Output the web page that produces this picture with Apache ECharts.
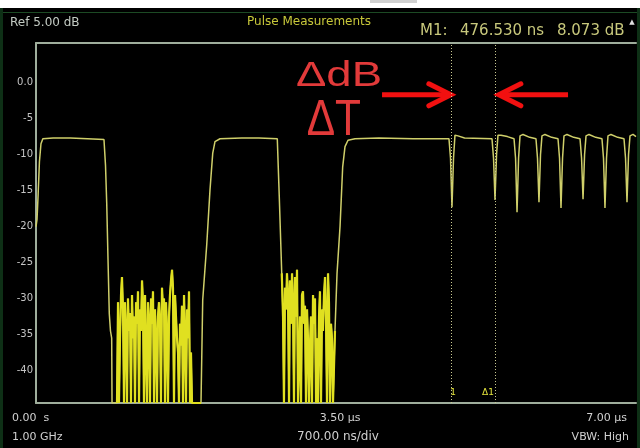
<!DOCTYPE html>
<html><head><meta charset="utf-8">
<script src="https://cdn.jsdelivr.net/npm/echarts@6/dist/echarts.min.js"></script>
<style>html,body{margin:0;padding:0;background:#000;}#c{width:640px;height:448px;}</style>
</head><body><div id="c"></div>
<script>
// ---- data (time in µs, level in dB) ----
const pulse1 = [[0.000,-20.5],[0.012,-19.5],[0.025,-16],[0.040,-11.5],[0.058,-9.0],[0.080,-8.3],[0.200,-8.2],[0.400,-8.2],[0.600,-8.3],[0.793,-8.4],[0.811,-12],[0.825,-17.2],[0.840,-25],[0.855,-32.6],[0.869,-35],[0.883,-36],[0.887,-45],[0.945,-45]];
const noise1 = [[0.945,-45],[0.957,-31],[0.968,-45],[0.980,-36],[0.992,-30],[1.003,-27.5],[1.015,-32],[1.027,-45],[1.038,-31],[1.050,-35],[1.062,-45],[1.073,-30.5],[1.085,-35],[1.097,-32.5],[1.108,-45],[1.120,-30],[1.132,-36],[1.143,-33],[1.155,-45],[1.167,-31],[1.178,-34],[1.190,-29.5],[1.202,-45],[1.213,-32],[1.225,-35],[1.237,-28],[1.248,-31],[1.260,-45],[1.272,-30],[1.283,-37],[1.295,-45],[1.307,-31],[1.318,-33.5],[1.330,-45],[1.342,-30.5],[1.353,-34],[1.365,-29.5],[1.377,-45],[1.388,-32],[1.400,-36],[1.412,-45],[1.423,-33],[1.435,-31],[1.447,-34],[1.458,-45],[1.470,-29],[1.482,-32],[1.493,-30.5],[1.505,-45],[1.517,-31],[1.528,-35],[1.540,-45],[1.552,-33],[1.563,-30],[1.575,-28],[1.587,-26.5],[1.598,-29],[1.610,-45],[1.622,-30],[1.633,-33],[1.645,-36],[1.657,-38],[1.668,-45],[1.680,-34],[1.692,-37],[1.703,-31.5],[1.715,-45],[1.727,-30],[1.738,-35],[1.750,-45],[1.762,-32],[1.773,-36],[1.785,-29.5],[1.797,-45],[1.808,-38],[1.820,-45],[1.925,-45]];
const pulse2 = [[1.937,-45],[1.945,-30.7],[1.992,-23],[2.030,-15.4],[2.062,-10.3],[2.088,-8.7],[2.147,-8.3],[2.400,-8.2],[2.600,-8.2],[2.815,-8.3],[2.840,-17],[2.867,-27]];
const noise2 = [[2.867,-27],[2.870,-28],[2.882,-33],[2.893,-45],[2.905,-29],[2.917,-32],[2.928,-27],[2.940,-30],[2.952,-45],[2.963,-28],[2.975,-34],[2.987,-27],[2.998,-31],[3.010,-45],[3.022,-27.5],[3.033,-33],[3.045,-26.5],[3.057,-45],[3.068,-45],[3.080,-33],[3.092,-45],[3.103,-30],[3.115,-29.5],[3.127,-34],[3.138,-31.5],[3.150,-45],[3.162,-32],[3.173,-36],[3.185,-45],[3.197,-37],[3.208,-33],[3.220,-45],[3.232,-30],[3.243,-34],[3.255,-30.5],[3.267,-45],[3.278,-36],[3.290,-45],[3.302,-33],[3.313,-29.5],[3.325,-45],[3.337,-32],[3.348,-35],[3.360,-30],[3.372,-27.5],[3.383,-33],[3.395,-45],[3.407,-27],[3.418,-31],[3.430,-45],[3.442,-34],[3.453,-36],[3.465,-45],[3.477,-45],[3.488,-35]];
const pulse3 = [[3.512,-27],[3.547,-20.5],[3.578,-12.2],[3.605,-9.4],[3.640,-8.5],[3.722,-8.3]];
const dipTrain = [[4.000,-8.2],[4.400,-8.3],[4.818,-8.3],[4.836,-11],[4.853,-17.8],[4.871,-11],[4.888,-7.8],[4.923,-7.9],[5.000,-8.2],
 [5.320,-8.3],[5.338,-11],[5.355,-16.8],[5.373,-10.5],[5.390,-7.8],[5.425,-7.8],[5.500,-8.0],
 [5.577,-8.3],[5.595,-11],[5.612,-18.5],[5.630,-11],[5.647,-7.9],[5.682,-7.7],[5.760,-8.1],
 [5.833,-8.3],[5.851,-11],[5.868,-17.1],[5.886,-10.5],[5.903,-7.9],[5.938,-7.7],[6.016,-8.1],
 [6.090,-8.3],[6.108,-11],[6.125,-17.9],[6.143,-11],[6.160,-7.9],[6.195,-7.7],[6.273,-8.1],
 [6.347,-8.3],[6.365,-11],[6.382,-16.7],[6.400,-10.5],[6.417,-7.9],[6.452,-7.7],[6.530,-8.1],
 [6.603,-8.3],[6.621,-11],[6.638,-17.9],[6.656,-11],[6.673,-7.9],[6.708,-7.7],[6.786,-8.1],
 [6.860,-8.3],[6.878,-11],[6.895,-17.1],[6.913,-10.5],[6.930,-7.9],[6.965,-7.7],[7.000,-8.0]];
const markerTimesUs = [4.853, 5.355];
const markerNames = ['1', 'Δ1'];
const yLabelValues = [0, -5, -10, -15, -20, -25, -30, -35, -40];
const arrowRowDb = -2.2;
const arrowLeft = [4.037, 4.840];   // tail, tip (µs)
const arrowRight = [6.207, 5.400];
const labelDeltaDb = {text: 'ΔdB', t: 3.535, db: 0.3};
const labelDeltaT = {text: 'ΔT', t: 3.475, db: -5.9};

const trace = [].concat(pulse1, noise1, pulse2, noise2, pulse3, dipTrain);

const pale = '#cfcf6a', bright = '#e0e020';
const frameColor = '#9fae9c';
const chart = echarts.init(document.getElementById('c'), null, {renderer: 'canvas'});
const xAx = pos => ({type: 'value', position: pos, min: 0, max: 7, interval: 0.7,
  axisLine: {show: true, onZero: false, lineStyle: {color: frameColor, width: 2}},
  axisTick: {show: false}, axisLabel: {show: false}, splitLine: {show: false}});
const option = {
  animation: false,
  backgroundColor: '#000',
  grid: {left: 36, top: 43, right: 4, bottom: 45},
  xAxis: [xAx('bottom'), xAx('top')],
  yAxis: {type: 'value', min: -45, max: 5, interval: 5,
    axisLine: {show: true, onZero: false, lineStyle: {color: frameColor, width: 2}}, axisTick: {show: false}, splitLine: {show: false},
    axisLabel: {color: '#c4c4c4', fontSize: 10, fontFamily: 'DejaVu Sans', margin: 3, verticalAlign: 'top', lineHeight: 7,
      formatter: v => yLabelValues.indexOf(v) >= 0 ? (v === 0 ? '0.0' : String(v)) : ''}},
  series: [{
    type: 'line', data: trace, showSymbol: false, symbol: 'none', lineStyle: {width: 1.5, color: pale}, silent: true,
    markLine: {silent: true, symbol: 'none', label: {show: false},
      lineStyle: {color: '#c8c890', type: [1, 2], width: 1},
      data: markerTimesUs.map(t => ({xAxis: t}))},
    markPoint: {silent: true, symbol: 'rect', symbolSize: 0,
      label: {show: true, color: '#e4e43c', fontSize: 9, fontFamily: 'DejaVu Sans', formatter: p => p.name},
      data: [
        {name: markerNames[0], coord: [markerTimesUs[0] + 0.012, -43.6], label: {position: 'inside'}},
        {name: markerNames[1], coord: [markerTimesUs[1], -43.6], label: {position: 'left', distance: 1}}
      ]}
  }, {
    type: 'line', data: noise1, showSymbol: false, symbol: 'none', lineStyle: {width: 2.2, color: bright}, silent: true
  }, {
    type: 'line', data: noise2, showSymbol: false, symbol: 'none', lineStyle: {width: 2.2, color: bright}, silent: true
  }]
};
chart.setOption(option);

const P = (t, db) => chart.convertToPixel({xAxisIndex: 0, yAxisIndex: 0}, [t, db]);
const red = '#f21010', textRed = '#e23a3a';
function arrow(pair) {
  const a = P(pair[0], arrowRowDb), b = P(pair[1], arrowRowDb);
  const dir = b[0] > a[0] ? 1 : -1;
  return [
    {type: 'line', shape: {x1: a[0], y1: a[1], x2: b[0] - dir * 2, y2: b[1]}, style: {stroke: red, lineWidth: 5}},
    {type: 'polyline', shape: {points: [[b[0] - dir * 22, b[1] - 11], [b[0], b[1]], [b[0] - dir * 22, b[1] + 11]]},
     style: {stroke: red, lineWidth: 5, lineCap: 'round', lineJoin: 'miter', fill: null}}
  ];
}
function bigText(lbl, size, sx) {
  const p = P(lbl.t, lbl.db);
  return {type: 'text', x: p[0], y: p[1], scaleX: sx,
    style: {text: lbl.text, fill: textRed, fontSize: size, fontFamily: 'Liberation Sans, Arial, sans-serif',
      align: 'center', verticalAlign: 'middle', textAlign: 'center', textVerticalAlign: 'middle'}};
}
function t(txt, x, y, color, size, align) {
  return {type: 'text', x: x, y: y, style: {text: txt, fill: color, fontSize: size, fontFamily: 'DejaVu Sans',
    align: align || 'left', verticalAlign: 'middle', textAlign: align || 'left', textVerticalAlign: 'middle'}};
}
const g = [
  {type: 'rect', shape: {x: 0, y: 0, width: 640, height: 8}, style: {fill: '#ffffff'}},
  {type: 'rect', shape: {x: 370, y: 0, width: 47, height: 3}, style: {fill: '#d0d0d0'}},
  {type: 'rect', shape: {x: 0, y: 12, width: 640, height: 1}, style: {fill: '#1c4a24'}},
  {type: 'rect', shape: {x: 0, y: 8, width: 3, height: 440}, style: {fill: '#0e3016'}},
  {type: 'rect', shape: {x: 637, y: 8, width: 3, height: 440}, style: {fill: '#0e3016'}},
  t('Ref 5.00 dB', 10, 23, '#c4ccc4', 12),
  t('Pulse Measurements', 247, 22, '#c8c83a', 12),
  t('M1:', 420, 31, '#c8c87c', 15),
  t('476.530 ns', 460, 31, '#c8c87c', 15),
  t('8.073 dB', 557, 31, '#c8c87c', 15),
  t('▲', 632, 22, '#e0e0e0', 7, 'center'),
  t('0.00  s', 12, 418, '#d0d0d0', 11),
  t('1.00 GHz', 12, 437, '#d0d0d0', 11),
  t('3.50 µs', 340, 418, '#d0d0d0', 11, 'center'),
  t('700.00 ns/div', 338, 437, '#d0d0d0', 12, 'center'),
  t('7.00 µs', 627, 418, '#d0d0d0', 11, 'right'),
  t('VBW: High', 629, 437, '#d0d0d0', 11, 'right'),
  bigText(labelDeltaDb, 35, 1.3),
  bigText(labelDeltaT, 50, 0.85)
].concat(arrow(arrowLeft), arrow(arrowRight));
chart.setOption({graphic: {elements: g}});
</script></body></html>
